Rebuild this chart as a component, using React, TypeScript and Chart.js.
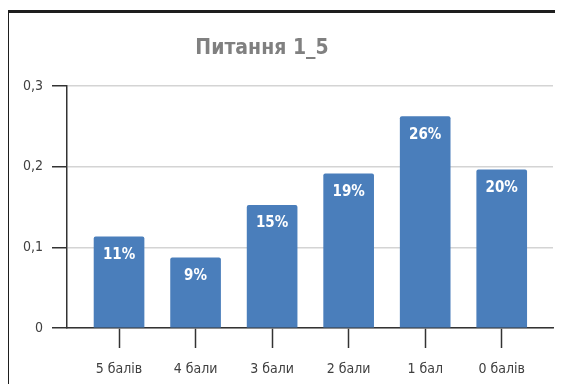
import React, { useEffect, useRef } from 'react';
import { Chart, registerables } from 'chart.js';

Chart.register(...registerables);

const categories = ['5 балів', '4 бали', '3 бали', '2 бали', '1 бал', '0 балів'];
const values = [0.113, 0.087, 0.152, 0.191, 0.262, 0.196];
const yTicks = [0, 0.1, 0.2, 0.3];
const titleText = 'Питання 1_5';

const FONT = '"Liberation Sans Narrow", "DejaVu Sans Condensed", "Arial Narrow", sans-serif';

export default function App() {
  const ref = useRef<HTMLCanvasElement | null>(null);

  useEffect(() => {
    document.documentElement.style.overflow = 'hidden';
    document.body.style.overflow = 'hidden';
    const canvas = ref.current;
    if (!canvas) return;

    const titlePlugin = {
      id: 'customTitle',
      afterDraw(chart: any) {
        const ctx = chart.ctx;
        ctx.save();
        ctx.font = `bold 21px ${FONT}`;
        ctx.fillStyle = '#808080';
        ctx.textAlign = 'center';
        ctx.textBaseline = 'middle';
        ctx.fillText(titleText, 253, 36);
        ctx.restore();
      },
    };

    const labelPlugin = {
      id: 'barLabels',
      afterDatasetsDraw(chart: any) {
        const ctx = chart.ctx;
        const meta = chart.getDatasetMeta(0);
        ctx.save();
        ctx.font = `bold 15px ${FONT}`;
        ctx.fillStyle = '#ffffff';
        ctx.textAlign = 'center';
        ctx.textBaseline = 'middle';
        meta.data.forEach((bar: any, i: number) => {
          ctx.fillText(Math.round(values[i] * 100) + '%', bar.x, bar.y + 18);
        });
        ctx.restore();
      },
    };

    const chart = new Chart(canvas, {
      type: 'bar',
      data: {
        datasets: [
          {
            data: values.map((v, i) => ({ x: i, y: v })),
            backgroundColor: '#4a7ebb',
            borderRadius: 2,
            borderSkipped: 'bottom',
            barThickness: 50,
          } as any,
        ],
      },
      options: {
        responsive: false,
        animation: false,
        layout: { padding: { top: 73, right: 10, left: 0, bottom: 0 } },
        plugins: {
          legend: { display: false },
          tooltip: { enabled: false },
          title: { display: false },
        },
        scales: {
          x: {
            type: 'linear',
            min: -0.68,
            max: 5.67,
            offset: false,
            afterBuildTicks: (s: any) => {
              s.ticks = categories.map((_, i) => ({ value: i }));
            },
            afterFit: (s: any) => {
              s.height = 56;
            },
            ticks: {
              callback: (v: any) => categories[v] ?? '',
              font: { family: FONT, size: 14 },
              color: '#404040',
              padding: 13,
              autoSkip: false,
              maxRotation: 0,
            },
            grid: {
              offset: false,
              drawOnChartArea: false,
              tickLength: 20,
              tickColor: '#333333',
              tickWidth: 1.5,
              color: '#333333',
            },
            border: { display: true, color: '#333333', width: 1.5 },
          } as any,
          y: {
            min: 0,
            max: 0.3,
            afterBuildTicks: (s: any) => {
              s.ticks = yTicks.map((v) => ({ value: v }));
            },
            afterFit: (s: any) => {
              s.width = 58;
            },
            ticks: {
              callback: (v: any) => String(v).replace('.', ','),
              font: { family: FONT, size: 14 },
              color: '#404040',
              padding: 9,
            },
            grid: {
              color: '#d4d4d4',
              lineWidth: 1.5,
              tickLength: 15,
              tickColor: '#333333',
              tickWidth: 1.5,
            },
            border: { display: true, color: '#333333', width: 1.5 },
          } as any,
        },
      },
      plugins: [titlePlugin, labelPlugin],
    });

    return () => chart.destroy();
  }, []);

  return (
    <div
      style={{
        marginLeft: -2,
        marginTop: 2,
        borderLeft: '3px solid #1e1e1e',
        borderTop: '3px solid #1e1e1e',
        width: 554,
        height: 371,
        background: '#ffffff',
      }}
    >
      <canvas ref={ref} width={554} height={371} style={{ display: 'block' }} />
    </div>
  );
}
